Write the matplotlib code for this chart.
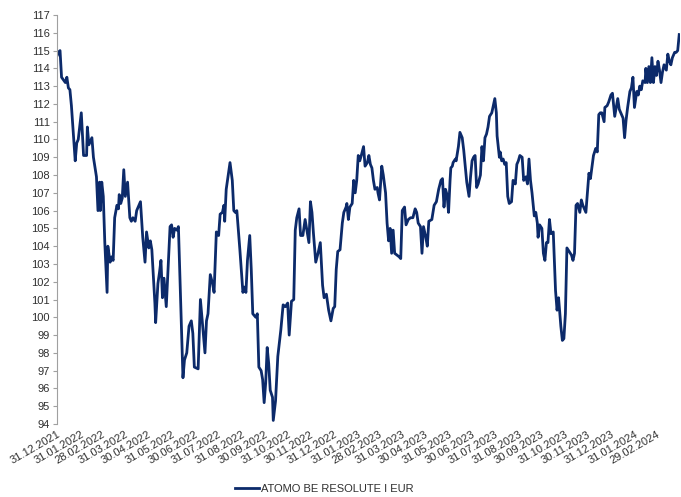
import pandas as pd
import matplotlib
matplotlib.use("Agg")
import matplotlib.pyplot as plt
import matplotlib.dates as mdates

# price index of the fund
dates = [
    "2021-12-31", "2022-01-02", "2022-01-04", "2022-01-06", "2022-01-11", "2022-01-13", "2022-01-15",
    "2022-01-17", "2022-01-19", "2022-01-24", "2022-01-26", "2022-01-28", "2022-02-01", "2022-02-04",
    "2022-02-08", "2022-02-09", "2022-02-11", "2022-02-15", "2022-02-17", "2022-02-21", "2022-02-23",
    "2022-02-25", "2022-02-26", "2022-02-28", "2022-03-02", "2022-03-04", "2022-03-07", "2022-03-08",
    "2022-03-11", "2022-03-13", "2022-03-15", "2022-03-17", "2022-03-20", "2022-03-22", "2022-03-23",
    "2022-03-25", "2022-03-27", "2022-03-29", "2022-03-31", "2022-04-03", "2022-04-06", "2022-04-08",
    "2022-04-10", "2022-04-13", "2022-04-15", "2022-04-20", "2022-04-23", "2022-04-26", "2022-04-28",
    "2022-05-01", "2022-05-03", "2022-05-05", "2022-05-09", "2022-05-10", "2022-05-13", "2022-05-15",
    "2022-05-17", "2022-05-19", "2022-05-21", "2022-05-24", "2022-05-29", "2022-05-31", "2022-06-02",
    "2022-06-04", "2022-06-07", "2022-06-09", "2022-06-13", "2022-06-15", "2022-06-17", "2022-06-20",
    "2022-06-23", "2022-06-26", "2022-06-28", "2022-06-30", "2022-07-05", "2022-07-08", "2022-07-11",
    "2022-07-14", "2022-07-16", "2022-07-18", "2022-07-21", "2022-07-24", "2022-07-26", "2022-07-29",
    "2022-08-01", "2022-08-03", "2022-08-06", "2022-08-08", "2022-08-09", "2022-08-11", "2022-08-13",
    "2022-08-16", "2022-08-19", "2022-08-21", "2022-08-23", "2022-08-25", "2022-08-29", "2022-09-02",
    "2022-09-04", "2022-09-06", "2022-09-08", "2022-09-11", "2022-09-13", "2022-09-15", "2022-09-19",
    "2022-09-21", "2022-09-23", "2022-09-26", "2022-09-28", "2022-09-30", "2022-10-02", "2022-10-04",
    "2022-10-06", "2022-10-08", "2022-10-11", "2022-10-12", "2022-10-15", "2022-10-18", "2022-10-22",
    "2022-10-25", "2022-10-28", "2022-10-31", "2022-11-02", "2022-11-05", "2022-11-08", "2022-11-10",
    "2022-11-12", "2022-11-15", "2022-11-17", "2022-11-20", "2022-11-23", "2022-11-28", "2022-11-30",
    "2022-12-02", "2022-12-04", "2022-12-07", "2022-12-10", "2022-12-13", "2022-12-16", "2022-12-18",
    "2022-12-21", "2022-12-24", "2022-12-27", "2022-12-30", "2023-01-01", "2023-01-03", "2023-01-05",
    "2023-01-08", "2023-01-11", "2023-01-13", "2023-01-16", "2023-01-17", "2023-01-19", "2023-01-21",
    "2023-01-24", "2023-01-26", "2023-01-28", "2023-01-30", "2023-02-01", "2023-02-03", "2023-02-05",
    "2023-02-08", "2023-02-10", "2023-02-13", "2023-02-15", "2023-02-17", "2023-02-19", "2023-02-21",
    "2023-02-23", "2023-02-26", "2023-02-27", "2023-03-01", "2023-03-04", "2023-03-06", "2023-03-09",
    "2023-03-11", "2023-03-13", "2023-03-15", "2023-03-17", "2023-03-19", "2023-03-21", "2023-03-24",
    "2023-03-27", "2023-03-29", "2023-03-31", "2023-04-03", "2023-04-05", "2023-04-08", "2023-04-11",
    "2023-04-14", "2023-04-17", "2023-04-19", "2023-04-21", "2023-04-24", "2023-04-26", "2023-04-28",
    "2023-05-01", "2023-05-03", "2023-05-05", "2023-05-09", "2023-05-12", "2023-05-15", "2023-05-18",
    "2023-05-21", "2023-05-23", "2023-05-25", "2023-05-27", "2023-05-29", "2023-05-31", "2023-06-02",
    "2023-06-03", "2023-06-05", "2023-06-06", "2023-06-09", "2023-06-10", "2023-06-13", "2023-06-15",
    "2023-06-18", "2023-06-20", "2023-06-22", "2023-06-24", "2023-06-27", "2023-06-29", "2023-07-01",
    "2023-07-03", "2023-07-05", "2023-07-07", "2023-07-09", "2023-07-12", "2023-07-14", "2023-07-16",
    "2023-07-18", "2023-07-20", "2023-07-22", "2023-07-24", "2023-07-27", "2023-07-29", "2023-07-31",
    "2023-08-02", "2023-08-03", "2023-08-06", "2023-08-07", "2023-08-09", "2023-08-11", "2023-08-13",
    "2023-08-15", "2023-08-17", "2023-08-19", "2023-08-22", "2023-08-24", "2023-08-27", "2023-08-29",
    "2023-08-31", "2023-09-02", "2023-09-05", "2023-09-07", "2023-09-10", "2023-09-12", "2023-09-14",
    "2023-09-16", "2023-09-18", "2023-09-21", "2023-09-23", "2023-09-25", "2023-09-26", "2023-09-28",
    "2023-10-01", "2023-10-03", "2023-10-05", "2023-10-07", "2023-10-09", "2023-10-11", "2023-10-13",
    "2023-10-16", "2023-10-19", "2023-10-21", "2023-10-23", "2023-10-26", "2023-10-28", "2023-10-30",
    "2023-11-01", "2023-11-03", "2023-11-06", "2023-11-09", "2023-11-11", "2023-11-13", "2023-11-15",
    "2023-11-17", "2023-11-20", "2023-11-22", "2023-11-24", "2023-11-28", "2023-11-30", "2023-12-02",
    "2023-12-04", "2023-12-08", "2023-12-11", "2023-12-13", "2023-12-15", "2023-12-17", "2023-12-19",
    "2023-12-22", "2023-12-23", "2023-12-26", "2023-12-28", "2023-12-31", "2024-01-02", "2024-01-05",
    "2024-01-07", "2024-01-09", "2024-01-11", "2024-01-13", "2024-01-16", "2024-01-18", "2024-01-20",
    "2024-01-22", "2024-01-25", "2024-01-27", "2024-01-29", "2024-01-31", "2024-02-03", "2024-02-05",
    "2024-02-07", "2024-02-09", "2024-02-11", "2024-02-14", "2024-02-15", "2024-02-17", "2024-02-19",
    "2024-02-21", "2024-02-23", "2024-02-25", "2024-02-27", "2024-02-29", "2024-03-02", "2024-03-04",
    "2024-03-06", "2024-03-08", "2024-03-10", "2024-03-13", "2024-03-15", "2024-03-17", "2024-03-19",
    "2024-03-21", "2024-03-24", "2024-03-26", "2024-03-28", "2024-03-30",
]

values = [
    114.7, 114.9, 115.0, 113.5, 113.2, 113.5, 112.9,
    112.8, 111.9, 108.8, 109.8, 110.0, 111.5, 109.1,
    109.1, 110.7, 109.7, 110.1, 109.0, 107.9, 106.0,
    107.6, 106.0, 107.6, 106.8, 104.2, 101.4, 104.0,
    103.1, 103.4, 103.2, 105.6, 106.3, 106.1, 106.9,
    106.4, 106.7, 108.3, 106.8, 107.6, 105.6, 105.4,
    105.6, 105.4, 106.0, 106.5, 104.5, 103.1, 104.8,
    103.9, 104.3, 103.8, 100.8, 99.7, 101.9, 102.5,
    103.2, 101.1, 102.2, 100.6, 105.1, 105.2, 104.5,
    105.0, 104.9, 105.1, 99.3, 96.6, 97.6, 98.0,
    99.5, 99.8, 99.1, 97.2, 97.1, 101.0, 99.5,
    98.0, 99.8, 100.2, 102.4, 101.9, 101.4, 104.8,
    104.6, 105.8, 105.9, 106.3, 105.4, 107.2, 107.8,
    108.7, 107.7, 106.0, 105.9, 106.0, 103.8, 101.4,
    101.7, 101.4, 103.2, 104.6, 102.7, 100.2, 100.0,
    100.2, 97.2, 97.0, 96.5, 95.2, 96.3, 98.3,
    97.4, 95.9, 95.5, 94.2, 95.3, 97.8, 99.3,
    100.7, 100.6, 100.8, 99.0, 100.9, 101.0, 104.9,
    105.6, 106.1, 104.6, 104.6, 105.5, 104.2, 106.5,
    105.9, 104.7, 103.1, 103.6, 104.2, 101.8, 101.1,
    101.3, 100.4, 99.8, 100.5, 100.6, 102.7, 103.7,
    103.8, 105.3, 105.9, 106.2, 106.4, 105.5, 106.2,
    106.4, 107.7, 107.0, 107.7, 109.1, 108.8, 109.1,
    109.6, 108.5, 108.7, 109.1, 108.6, 108.4, 107.7,
    107.2, 107.3, 107.0, 106.6, 108.5, 108.0, 107.0,
    105.3, 104.3, 105.0, 103.6, 104.9, 103.6, 103.5,
    103.4, 103.3, 106.0, 106.2, 105.2, 105.5, 105.6,
    105.6, 106.1, 105.9, 105.3, 105.1, 103.6, 105.1,
    104.5, 104.0, 105.4, 105.5, 106.3, 106.5, 107.2,
    107.7, 107.8, 106.2, 107.2, 106.9, 105.9, 107.7,
    108.4, 108.5, 108.7, 108.9, 108.8, 109.6, 110.4,
    110.1, 109.4, 108.5, 107.6, 106.8, 107.9, 108.8,
    109.0, 109.1, 107.3, 107.5, 108.0, 109.6, 108.8,
    110.1, 110.3, 110.7, 111.3, 111.5, 111.9, 112.3,
    111.5, 110.2, 109.0, 109.3, 108.8, 108.9, 108.6,
    108.7, 106.8, 106.4, 106.5, 107.7, 107.5, 108.6,
    108.8, 109.1, 109.0, 107.7, 107.9, 107.5, 108.9,
    107.7, 107.0, 105.7, 105.9, 105.3, 104.5, 105.2,
    105.0, 103.6, 103.2, 104.2, 104.2, 105.5, 104.7,
    104.8, 101.5, 100.4, 101.1, 99.5, 98.7, 98.8,
    100.2, 103.9, 103.7, 103.5, 103.2, 103.6, 106.3,
    106.4, 105.9, 106.6, 106.3, 105.9, 107.0, 108.1,
    107.8, 109.1, 109.5, 109.3, 111.4, 111.5, 111.5,
    111.0, 111.8, 111.9, 112.1, 112.5, 112.6, 111.3,
    111.8, 112.3, 111.7, 111.5, 111.2, 110.1, 111.1,
    111.8, 112.7, 112.9, 113.5, 111.8, 112.7, 112.5,
    113.0, 112.8, 113.3, 113.2, 114.0, 113.2, 114.1,
    113.2, 114.6, 113.2, 114.1, 113.6, 114.4, 113.9,
    113.2, 113.8, 114.2, 113.9, 114.8, 114.4, 114.2,
    114.6, 114.9, 114.9, 115.0, 115.9,
]

tick_dates = pd.date_range("2021-12-31", "2024-02-29", freq="ME")
series_name = "ATOMO BE RESOLUTE I EUR"

plt.rcParams['font.family'] = ['Liberation Sans', 'DejaVu Sans']

fig = plt.figure(figsize=(6.81, 4.97), dpi=100)
ax = fig.add_axes([0.0837, 0.1469, 0.9148, 0.8229])

x = pd.to_datetime(dates)
ax.plot(x, values, color='#0c2a6a', lw=2.0, label=series_name)

ax.set_ylim(94, 117)
ax.set_yticks(range(94, 118))
ax.set_xlim(pd.Timestamp("2021-12-31"), pd.Timestamp("2024-03-31"))
ax.set_xticks(tick_dates)
ax.set_xticklabels([d.strftime("%d.%m.%Y") for d in tick_dates],
                   rotation=30, ha='right', rotation_mode='anchor')

for s in ['top', 'right', 'bottom']:
    ax.spines[s].set_visible(False)
ax.spines['left'].set_color('#a0a0a0')
ax.tick_params(axis='y', length=3, color='#a0a0a0', labelsize=8, labelcolor='#303030', pad=2)
ax.tick_params(axis='x', length=0, labelsize=8, labelcolor='#303030', pad=4)

fig.legend(loc='center', bbox_to_anchor=(0.476, 0.016), frameon=False,
           fontsize=8, handlelength=2.2, handletextpad=0.2, labelcolor='#303030')

fig.savefig("out.png", dpi=100)
